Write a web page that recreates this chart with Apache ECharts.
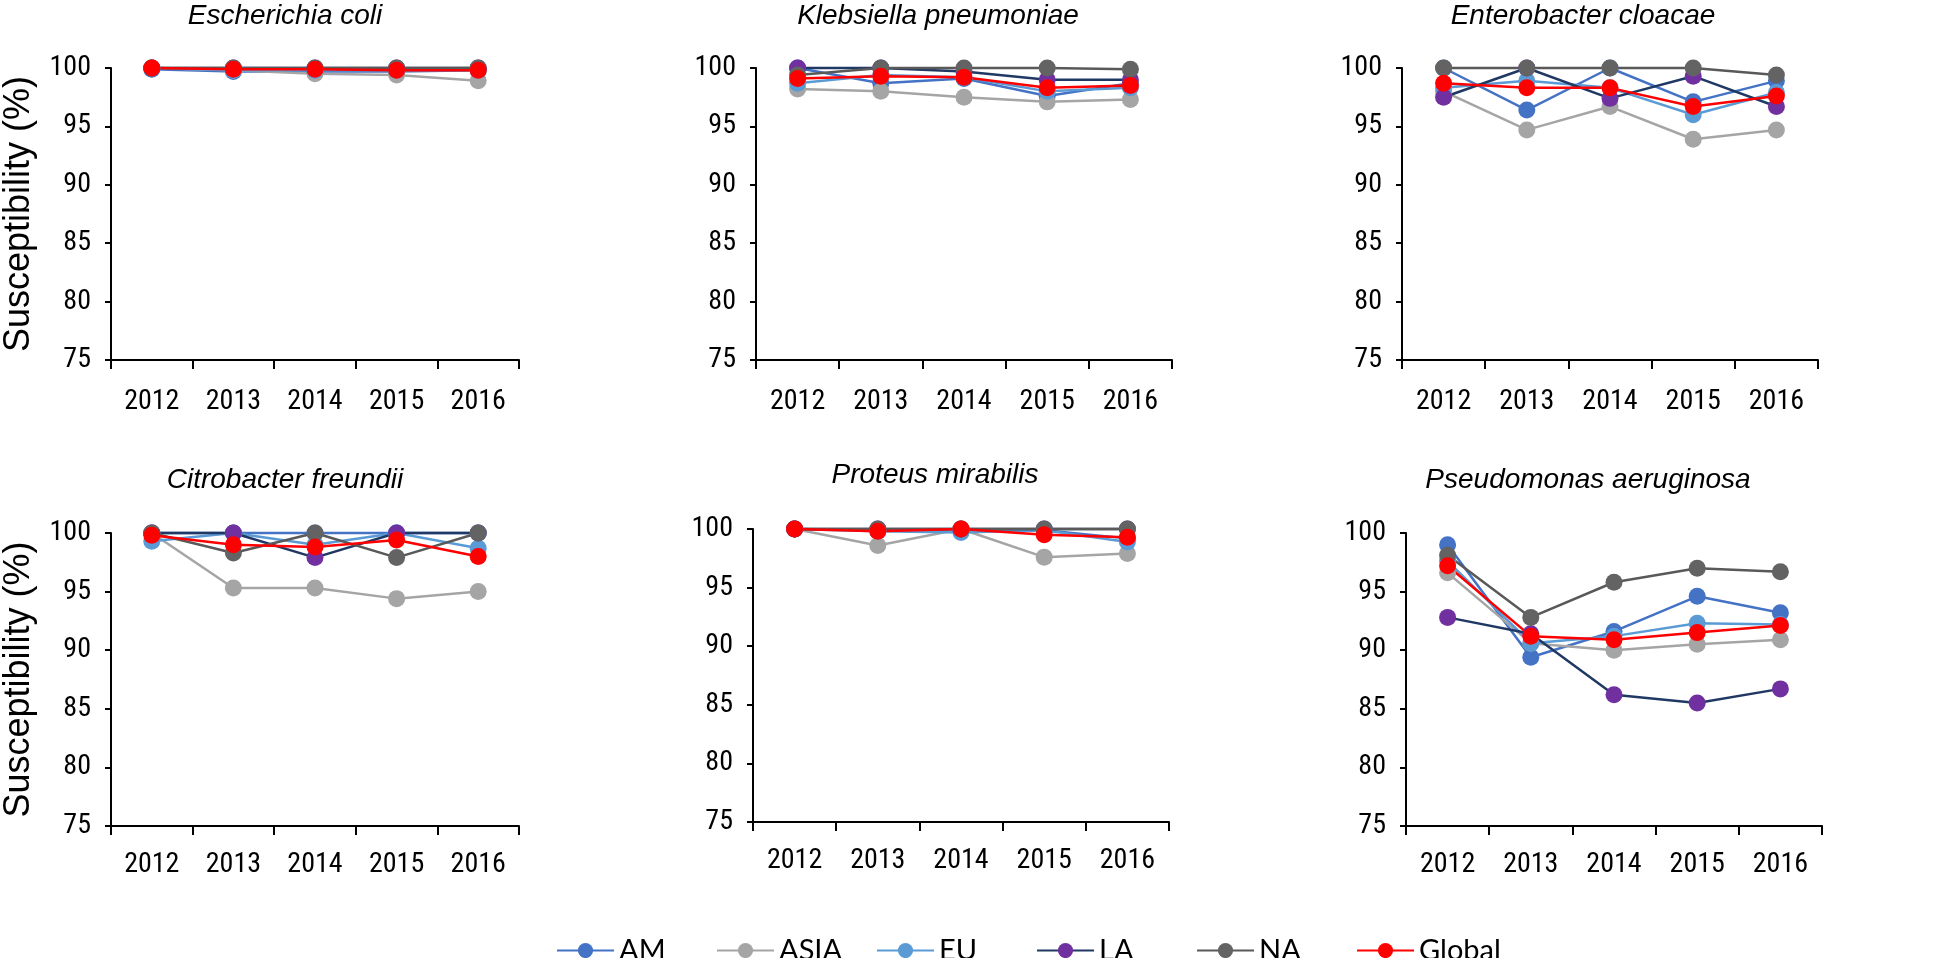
<!DOCTYPE html>
<html>
<head>
<meta charset="utf-8">
<script src="https://cdn.jsdelivr.net/npm/echarts@6/dist/echarts.min.js"></script>
<style>html,body{margin:0;padding:0;background:#fff}#c{width:1960px;height:958px}</style>
</head>
<body>
<div id="c"></div>
<script>
const years = ['2012', '2013', '2014', '2015', '2016'];
const regions = ['AM', 'ASIA', 'EU', 'LA', 'NA', 'Global'];
const panelTitles = ['Escherichia coli', 'Klebsiella pneumoniae', 'Enterobacter cloacae',
  'Citrobacter freundii', 'Proteus mirabilis', 'Pseudomonas aeruginosa'];
const yTicks = [75, 80, 85, 90, 95, 100];

// rows: AM, ASIA, EU, LA, NA, Global
const ecoli = [
  [99.9, 99.7, 99.7, 99.7, 99.8],
  [100, 99.8, 99.5, 99.4, 98.9],
  [100, 99.8, 99.8, 99.8, 99.8],
  [100, 100, 100, 100, 100],
  [100, 100, 100, 100, 100],
  [100, 99.9, 99.9, 99.8, 99.8]
];
const kpneumoniae = [
  [100, 98.7, 99.1, 97.6, 98.7],
  [98.2, 98.0, 97.5, 97.1, 97.3],
  [98.7, 99.4, 99.2, 98.0, 98.3],
  [100, 100, 99.7, 99.0, 99.0],
  [99.4, 100, 100, 100, 99.9],
  [99.1, 99.3, 99.2, 98.3, 98.5]
];
const ecloacae = [
  [100, 96.4, 100, 97.1, 98.9],
  [98.0, 94.7, 96.7, 93.9, 94.7],
  [98.3, 98.9, 98.3, 96.0, 97.9],
  [97.5, 100, 97.4, 99.3, 96.7],
  [100, 100, 100, 100, 99.4],
  [98.7, 98.3, 98.3, 96.7, 97.6]
];
const cfreundii = [
  [100, 100, 100, 100, 100],
  [100, 95.3, 95.3, 94.4, 95.0],
  [99.3, 100, 99.0, 100, 98.7],
  [100, 100, 97.9, 100, 100],
  [100, 98.3, 100, 97.9, 100],
  [99.8, 99.0, 98.8, 99.4, 98.0]
];
const pmirabilis = [
  [100, 99.9, 99.8, 99.9, 99.2],
  [100, 98.6, 100, 97.6, 97.9],
  [100, 99.8, 99.7, 99.9, 98.9],
  [100, 100, 100, 100, 100],
  [100, 100, 100, 100, 100],
  [100, 99.8, 100, 99.5, 99.3]
];
const paeruginosa = [
  [99.0, 89.4, 91.6, 94.6, 93.2],
  [96.6, 90.6, 90.0, 90.5, 90.9],
  [97.6, 90.6, 91.2, 92.3, 92.2],
  [92.8, 91.4, 86.2, 85.5, 86.7],
  [98.1, 92.8, 95.8, 97.0, 96.7],
  [97.2, 91.2, 90.9, 91.5, 92.1]
];
const panelData = [ecoli, kpneumoniae, ecloacae, cfreundii, pmirabilis, paeruginosa];

const markerColors = ['#4472C4', '#A5A5A5', '#5B9BD5', '#7030A0', '#636363', '#FF0000'];
const lineColors = ['#4472C4', '#A5A5A5', '#5B9BD5', '#203864', '#595959', '#FF0000'];

const grids = [
  {left: 103, top: 68, width: 416, height: 292},
  {left: 756, top: 68, width: 416, height: 292},
  {left: 1402, top: 68, width: 416, height: 292},
  {left: 103, top: 533, width: 416, height: 293},
  {left: 753, top: 529, width: 416, height: 293},
  {left: 1406, top: 533, width: 416, height: 293}
];
const titlePos = [[285, 16], [938, 16], [1583, 16], [285, 480], [935, 475], [1588, 480]];

const narrow = "'Roboto Condensed', 'Liberation Sans', sans-serif";

const xAxes = grids.map((g, i) => ({
  type: 'category', gridIndex: i, data: years, boundaryGap: true,
  axisLine: {lineStyle: {color: '#000', width: 2}},
  axisTick: {show: true, length: 9, lineStyle: {color: '#000', width: 2}},
  axisLabel: {color: '#000', fontSize: 28, fontFamily: narrow, margin: i < 3 ? 28 : 25}
}));
const yAxes = grids.map((g, i) => ({
  type: 'value', gridIndex: i, min: yTicks[0], max: yTicks[yTicks.length - 1], interval: 5,
  name: (i === 0 || i === 3) ? 'Susceptibility (%)' : '',
  nameLocation: 'middle', nameRotate: 90, nameGap: 74,
  nameTextStyle: {color: '#000', fontSize: 36, fontFamily: "'Liberation Sans', Arial, sans-serif"},
  axisLine: {show: true, lineStyle: {color: '#000', width: 2}},
  axisTick: {show: true, length: 6, lineStyle: {color: '#000', width: 2}},
  splitLine: {show: false},
  axisLabel: {color: '#000', fontSize: 28, fontFamily: narrow, margin: 20}
}));

const series = [];
panelData.forEach((pd, p) => {
  pd.forEach((vals, r) => {
    series.push({
      name: regions[r], type: 'line', xAxisIndex: p, yAxisIndex: p,
      data: vals, symbol: 'circle', symbolSize: 17, clip: false,
      itemStyle: {color: markerColors[r]},
      lineStyle: {color: lineColors[r], width: 2.5},
      emphasis: {disabled: true}, animation: false
    });
  });
});

const graphics = panelTitles.map((t, i) => ({
  type: 'text', x: titlePos[i][0], y: titlePos[i][1],
  style: {text: t, textAlign: 'center', textVerticalAlign: 'middle',
    font: "italic 28px 'Liberation Sans', Arial, sans-serif", fill: '#000'}
}));

const legends = regions.map((r, i) => ({
  data: [r], left: 556 + 160 * i, top: 936, padding: 0,
  itemWidth: 57, itemHeight: 19,
  textStyle: {color: '#000', fontSize: 29, fontFamily: "Lato, 'Liberation Sans', sans-serif"}
}));

const chart = echarts.init(document.getElementById('c'));
chart.setOption({
  animation: false,
  grid: grids,
  xAxis: xAxes,
  yAxis: yAxes,
  series: series,
  graphic: graphics,
  legend: legends
});
</script>
</body>
</html>
